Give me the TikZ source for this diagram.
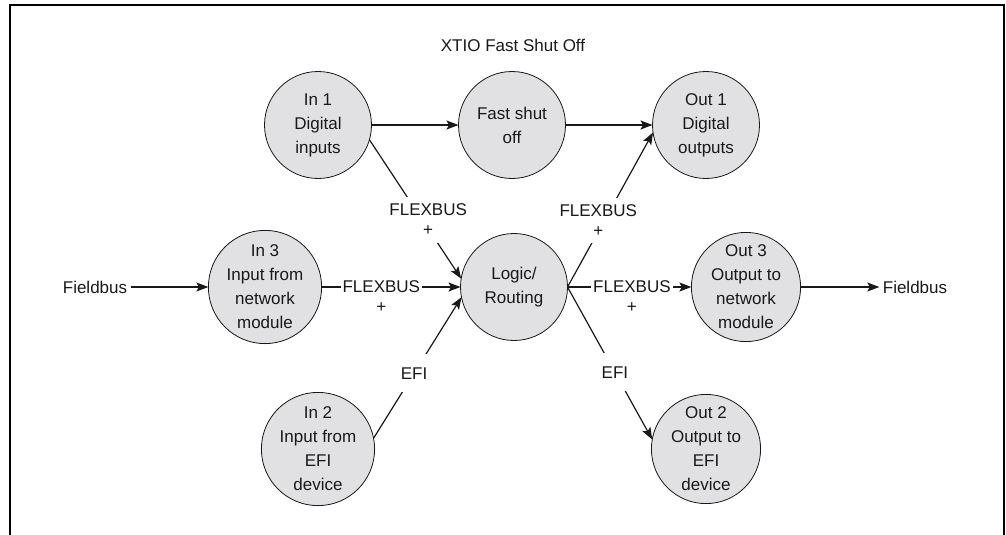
\documentclass[tikz,border=0pt]{standalone}
\usepackage{fontspec}
\setmainfont{Liberation Sans}
\usetikzlibrary{arrows.meta}
\definecolor{procfill}{RGB}{225,225,227}
\definecolor{ink}{RGB}{25,25,25}
\begin{document}
\begin{tikzpicture}[x=1pt,y=-1pt,
  every node/.style={font=\fontsize{17}{24}\selectfont, text=ink},
  proc/.style={circle, draw=ink, line width=0.8pt, fill=procfill, minimum size=107pt, inner sep=0pt, outer sep=0pt, align=center},
  conn/.style={line width=1.2pt, draw=ink, -{Stealth[length=12pt,width=9pt,inset=2.5pt]}},
  frame/.style={line width=2pt, draw=black},
  flexd/.style={fill=white, align=center, inner xsep=2pt, inner ysep=7pt, font=\fontsize{17}{20}\selectfont},
  flexh/.style={fill=white, inner xsep=2pt, inner ysep=3pt},
  plusl/.style={inner sep=1pt},
  efil/.style={fill=white, inner xsep=2pt, minimum height=38pt}
]
\useasboundingbox (0,0) rectangle (1006,535);
\draw[frame] (10,535) -- (10,5) -- (1004,5) -- (1004,535);

\node (title) at (513,45) {XTIO Fast Shut Off};

\node[proc] (in1)   at (318,125) {In 1\\Digital\\inputs};
\node[proc] (fast)  at (512,125) {Fast shut\\off};
\node[proc] (out1)  at (706,125) {Out 1\\Digital\\outputs};
\node[proc] (in3)   at (265,287) {In 3\\Input from\\network\\module};
\node[proc] (logic) at (514,287) {Logic/\\Routing};
\node[proc] (out3)  at (746,287) {Out 3\\Output to\\network\\module};
\node[proc] (in2)   at (318,449) {In 2\\Input from\\EFI\\device};
\node[proc] (out2)  at (706,449) {Out 2\\Output to\\EFI\\device};

\node (fbl) at (95,287) {Fieldbus};
\node (fbr) at (915,287) {Fieldbus};

\draw[conn] (fbl) -- (in3.west);
\draw[conn] (out3.east) -- (fbr);

\draw[conn] (in1.east) -- (fast.west);
\draw[conn] (fast.east) -- (out1.west);

\draw[conn] (in1.-16) -- node[flexd, pos=0.575, xshift=6pt] (l1) {FLEXBUS\\+} (logic.171);
\draw[conn] (in3.east) -- node[flexh, pos=0.43] (l3) {FLEXBUS} (logic.west);
\node[plusl] (p3) at ([yshift=-21pt]l3.center) {+};
\draw[conn] (in2.11.5) -- node[efil, pos=0.46] (l2) {EFI} (logic.191);

\draw[conn] (logic.east) -- node[flexd, pos=0.43, xshift=-6pt] (r1) {FLEXBUS\\+} (out1.188);
\draw[conn] (logic.east) -- node[flexh, pos=0.52] (r3) {FLEXBUS} (out3.west);
\node[plusl] (q3) at ([yshift=-21pt]r3.center) {+};
\draw[conn] (logic.east) -- node[efil, pos=0.56] (r2) {EFI} (out2.170);
\end{tikzpicture}
\end{document}
